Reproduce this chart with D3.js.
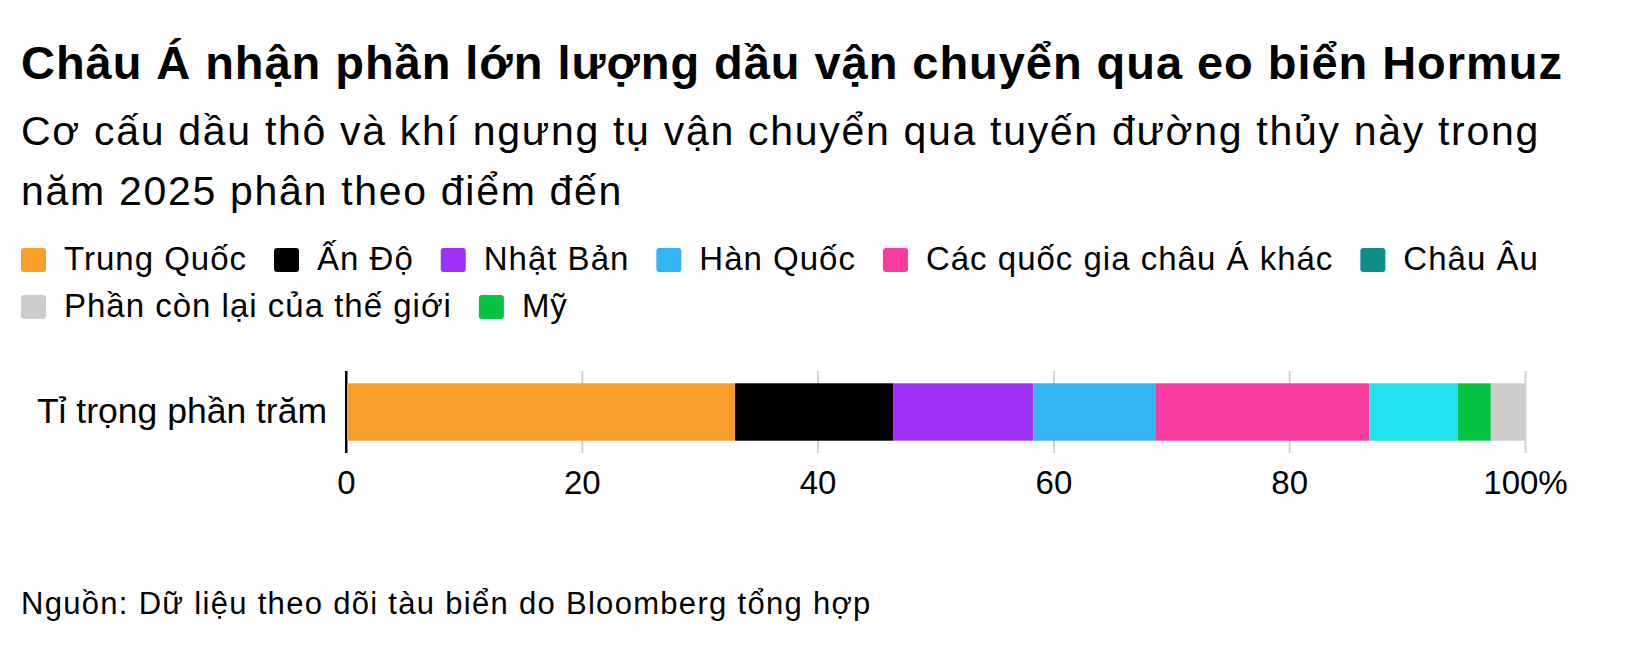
<!DOCTYPE html>
<html>
  <head>
    <meta charset="utf-8">
    <title>Châu Á nhận phần lớn lượng dầu vận chuyển qua eo biển Hormuz</title>
    <script src="https://cdn.jsdelivr.net/npm/d3@7"></script>
    <style>
      body { margin: 0; background: #fff; }
      svg { display: block; font-family: "Liberation Sans", Arial, Helvetica, sans-serif; }
    </style>
  </head>
  <body>
  <div id="chart"></div>
  <script>
    // dữ liệu
    var categories = ["Tỉ trọng phần trăm"];
    var seriesNames = ["Trung Quốc", "Ấn Độ", "Nhật Bản", "Hàn Quốc", "Các quốc gia châu Á khác", "Châu Âu", "Mỹ", "Phần còn lại của thế giới"];
    var shares = [33.0, 13.4, 11.9, 10.4, 18.1, 7.5, 2.8, 2.9];
    var barColors = ["#f89f2b", "#000000", "#a032f6", "#33b6f3", "#f83b9f", "#22e2f0", "#08c244", "#cccccc"];
    var legendNames = ["Trung Quốc", "Ấn Độ", "Nhật Bản", "Hàn Quốc", "Các quốc gia châu Á khác", "Châu Âu", "Phần còn lại của thế giới", "Mỹ"];
    var legendColors = ["#f89f2b", "#000000", "#a032f6", "#33b6f3", "#f83b9f", "#0f8d88", "#cccccc", "#08c244"];
    var tickValues = [0, 20, 40, 60, 80, 100];

    var W = 1626, H = 656;
    var svg = d3.select("#chart").append("svg")
                .attr("width", W)
                .attr("height", H);

    // tiêu đề
    svg.append("text")
         .attr("x", 21).attr("y", 79)
         .style("font-size", "47px").style("font-weight", "bold")
         .style("letter-spacing", "0.95px")
         .text("Châu Á nhận phần lớn lượng dầu vận chuyển qua eo biển Hormuz");
    svg.append("text")
         .attr("x", 21).attr("y", 145)
         .style("font-size", "41px")
         .style("letter-spacing", "1.7px")
         .text("Cơ cấu dầu thô và khí ngưng tụ vận chuyển qua tuyến đường thủy này trong");
    svg.append("text")
         .attr("x", 21).attr("y", 205)
         .style("font-size", "41px")
         .style("letter-spacing", "1.7px")
         .text("năm 2025 phân theo điểm đến");

    // chú thích
    var lx = 21, ly = 270;
    legendNames.forEach(function (name, i) {
      var g = svg.append("g");
      var t = g.append("text")
               .attr("y", 0)
               .style("font-size", "33px")
               .style("letter-spacing", "1px")
               .text(name);
      var w = t.node().getComputedTextLength();
      if (lx + 43 + w > W - 20) { lx = 21; ly += 47; }
      g.attr("transform", `translate(${lx}, ${ly})`);
      g.insert("rect", "text")
         .attr("x", 0).attr("y", -22)
         .attr("width", 25).attr("height", 24)
         .attr("rx", 3)
         .style("fill", legendColors[i]);
      t.attr("x", 43);
      lx += 43 + w + 27;
    });

    // trục và thanh xếp chồng
    var x = d3.scaleLinear().domain([0, 100]).range([346, 1525]);
    var y = d3.scaleBand().domain(categories).range([371, 453])
              .paddingInner(0.3).paddingOuter(0.15);

    var row = {};
    seriesNames.forEach(function (n, i) { row[n] = shares[i]; });
    var stacked = d3.stack().keys(seriesNames)([row]);

    svg.append("g")
         .attr("transform", "translate(0, 453)")
         .call(d3.axisBottom(x)
                 .tickValues(tickValues)
                 .tickSize(82)
                 .tickFormat(function (d) { return d === 100 ? "100%" : d; }))
         .call(function (g) {
           g.select(".domain").remove();
           g.selectAll(".tick line")
              .attr("y1", -82).attr("y2", 0)
              .style("stroke", function (d) { return d === 0 ? "#000" : "#d3d3d3"; })
              .style("stroke-width", 2);
           g.selectAll(".tick text")
              .attr("y", 41)
              .attr("dy", 0)
              .style("font-size", "33px")
              .style("font-family", "'Liberation Sans', Arial, sans-serif")
              .style("fill", "#000");
         });

    svg.append("g")
      .selectAll("rect")
      .data(stacked)
      .enter()
      .append("rect")
        .attr("x", function (d) { return x(d[0][0]); })
        .attr("width", function (d) { return x(d[0][1]) - x(d[0][0]); })
        .attr("y", y(categories[0]))
        .attr("height", y.bandwidth())
        .style("fill", function (d, i) { return barColors[i]; });

    // vẽ lại đường 0 lên trên thanh
    svg.append("line")
         .attr("x1", x(0)).attr("x2", x(0))
         .attr("y1", 371).attr("y2", 453)
         .style("stroke", "#000").style("stroke-width", 2);

    svg.append("text")
         .attr("x", 327).attr("y", y(categories[0]) + y.bandwidth() / 2 + 11)
         .attr("text-anchor", "end")
         .style("font-size", "35.5px")
         .text(categories[0]);

    // nguồn
    svg.append("text")
         .attr("x", 21).attr("y", 614)
         .style("font-size", "31px")
         .style("letter-spacing", "1.3px")
         .text("Nguồn: Dữ liệu theo dõi tàu biển do Bloomberg tổng hợp");
  </script>
  </body>
</html>
